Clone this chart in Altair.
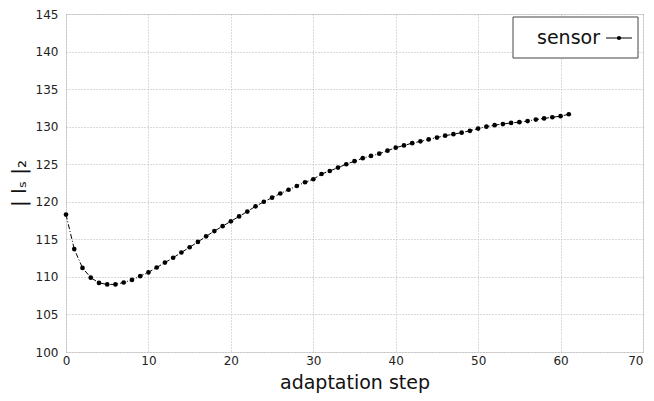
import altair as alt
import pandas as pd

steps = list(range(62))
values = [118.3, 113.7, 111.2, 109.9, 109.2, 109.0, 109.0, 109.25, 109.6, 110.1,
          110.6, 111.25, 111.9, 112.55, 113.25, 113.95, 114.65, 115.4, 116.1, 116.75,
          117.4, 118.05, 118.7, 119.4, 120.0, 120.55, 121.1, 121.6, 122.1, 122.6,
          123.0, 123.7, 124.1, 124.55, 125.0, 125.4, 125.8, 126.1, 126.4, 126.8,
          127.2, 127.5, 127.8, 128.05, 128.3, 128.55, 128.8, 129.0, 129.2, 129.45,
          129.75, 130.0, 130.2, 130.35, 130.5, 130.6, 130.75, 130.95, 131.1, 131.25,
          131.4, 131.65]
x_ticks = [0, 10, 20, 30, 40, 50, 60, 70]
y_ticks = [100, 105, 110, 115, 120, 125, 130, 135, 140, 145]
series_name = "sensor"

df = pd.DataFrame({"step": steps, "value": values})
leg = pd.DataFrame({"label": [series_name]})

FONT = "DejaVu Sans"

x = alt.X("step:Q", scale=alt.Scale(domain=[0, 70], nice=False),
          axis=alt.Axis(values=x_ticks, title="adaptation step",
                        titleFontSize=19, titleFontWeight="normal", titleColor="#111",
                        titleY=36, titleBaseline="alphabetic",
                        labelFontSize=12, labelColor="#222", labelPadding=3,
                        labelAlign={"condition": {"test": "datum.value >= 70", "value": "right"},
                                    "value": "center"},
                        labelFlush=False, labelOverlap=False, ticks=False, domain=False,
                        grid=True, gridDash=[1, 2], gridColor="#b5b5b5"))
y = alt.Y("value:Q", scale=alt.Scale(domain=[100, 145], nice=False, zero=False),
          axis=alt.Axis(values=y_ticks, title="| lₛ |₂",
                        titleFontSize=20, titleFontWeight="normal", titleColor="#111",
                        titleAngle=-90, titleX=-47, titleY=169, titleAlign="center",
                        titleBaseline="middle",
                        labelFontSize=12, labelColor="#222", labelPadding=8,
                        labelFlush=False, labelOverlap=False, ticks=False, domain=False,
                        grid=True, gridDash=[1, 2], gridColor="#b5b5b5"))

base = alt.Chart(df).encode(x=x, y=y)
line = base.mark_line(color="black", strokeWidth=1, strokeDash=[5, 2, 1, 2])
pts = base.mark_point(filled=True, color="black", size=22, opacity=1)

box = alt.Chart(leg).mark_rect(fill="white", stroke="#444", strokeWidth=1).encode(
    x=alt.value(447), x2=alt.value(572), y=alt.value(3), y2=alt.value(44))
txt = alt.Chart(leg).mark_text(align="right", baseline="middle", fontSize=19,
                               font=FONT, color="#111").encode(
    x=alt.value(534), y=alt.value(24), text="label:N")
sym_line = alt.Chart(leg).mark_rule(color="black", strokeWidth=1).encode(
    x=alt.value(540), x2=alt.value(566), y=alt.value(24))
sym_pt = alt.Chart(leg).mark_point(filled=True, color="black", size=18,
                                   opacity=1).encode(x=alt.value(553), y=alt.value(24))

chart = alt.layer(line, pts, box, txt, sym_line, sym_pt).properties(
    width=577, height=338,
    autosize=alt.AutoSizeParams(type="none"),
    padding={"left": 58, "top": 6, "right": 3, "bottom": 41},
).configure_view(stroke="#555", strokeWidth=1.2).configure(font=FONT)

chart.save("out.html", embed_options={"renderer": "svg", "actions": False})
